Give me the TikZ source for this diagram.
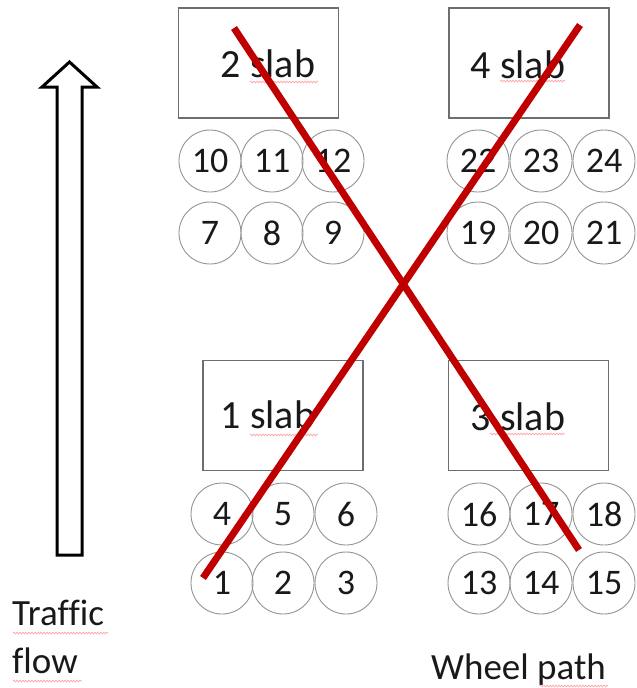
\documentclass[tikz,border=0pt]{standalone}
\usepackage{fontspec}
\setmainfont[Ligatures=CommonOff]{Carlito}
\usetikzlibrary{decorations.pathmorphing}
\definecolor{xred}{HTML}{C00000}
\definecolor{boxgray}{HTML}{6E6E6E}
\tikzset{
  slabbox/.style={draw=boxgray, line width=1.1pt, minimum width=160pt, minimum height=110pt, inner sep=0pt},
  slabtxt/.style={font=\fontsize{40}{40}\selectfont, text=black!90, inner sep=0pt},
  wheel/.style={circle, draw=gray!85, line width=0.9pt, minimum size=62pt, inner sep=0pt, font=\fontsize{36}{36}\selectfont, text=black!90},
  lbl/.style={font=\fontsize{37}{37}\selectfont, text=black!90, inner sep=0pt},
  squig/.style={draw=red!35, line width=0.7pt, decorate, decoration={snake, amplitude=0.9pt, segment length=3pt}},
  cross/.style={draw=xred, line width=7pt},
  blockarrow/.style={draw=black, line width=3pt, fill=white, line join=miter}
}
\begin{document}
\begin{tikzpicture}[x=1pt, y=-1pt]
\useasboundingbox (0,0) rectangle (637,688);

% slab boxes
\node[slabbox] (s2) at (258.5,63) {};
\node[slabbox] (s4) at (529,63) {};
\node[slabbox] (s1) at (283,415.5) {};
\node[slabbox] (s3) at (528.5,415.5) {};
\node[slabtxt] (t2) at (268,64) {2 slab};
\node[slabtxt] (t4) at (518,65) {4 slab};
\node[slabtxt] (t1) at (268,415) {1 slab};
\node[slabtxt] (t3) at (518,417) {3 slab};
\draw[squig] (250,82) -- (318,82);
\draw[squig] (500,81) -- (565,81);
\draw[squig] (250,435) -- (318,435);
\draw[squig] (490,434) -- (565,434);

% wheel circles
\node[wheel] (c10) at (210,161) {10};
\node[wheel] (c11) at (272,161) {11};
\node[wheel] (c12) at (333,161) {12};
\node[wheel] (c7) at (210,233) {7};
\node[wheel] (c8) at (272,233) {8};
\node[wheel] (c9) at (333,233) {9};
\node[wheel] (c22) at (478,161) {22};
\node[wheel] (c23) at (541,161) {23};
\node[wheel] (c24) at (604,161) {24};
\node[wheel] (c19) at (478,233) {19};
\node[wheel] (c20) at (541,233) {20};
\node[wheel] (c21) at (604,233) {21};
\node[wheel] (c4) at (222,514) {4};
\node[wheel] (c5) at (283,514) {5};
\node[wheel] (c6) at (346,514) {6};
\node[wheel] (c1) at (222,583) {1};
\node[wheel] (c2) at (283,583) {2};
\node[wheel] (c3) at (346,583) {3};
\node[wheel] (c16) at (479,514) {16};
\node[wheel] (c17) at (541,514) {17};
\node[wheel] (c18) at (604,514) {18};
\node[wheel] (c13) at (479,583) {13};
\node[wheel] (c14) at (541,583) {14};
\node[wheel] (c15) at (604,583) {15};

% traffic arrow
\draw[blockarrow] (69.5,62) -- (97,87) -- (82,87) -- (82,555) -- (57,555) -- (57,87) -- (42,87) -- cycle;

% labels
\node[lbl, anchor=base west] (traffic) at (12,625) {Traffic};
\node[lbl, anchor=base west] (flow) at (12,673) {flow};
\node[lbl, anchor=base west] (wheelpath) at (431,679) {Wheel path};
\draw[squig] (13,633) -- (108,633);
\draw[squig] (13,681) -- (82,681);
\draw[squig] (540,686) -- (608,686);

% red cross
\coordinate (xa1) at (234,28);
\coordinate (xa2) at (579,550);
\coordinate (xb1) at (203,578);
\coordinate (xb2) at (580,25);
\draw[cross] (xa1) -- (xa2);
\draw[cross] (xb1) -- (xb2);
\end{tikzpicture}
\end{document}
